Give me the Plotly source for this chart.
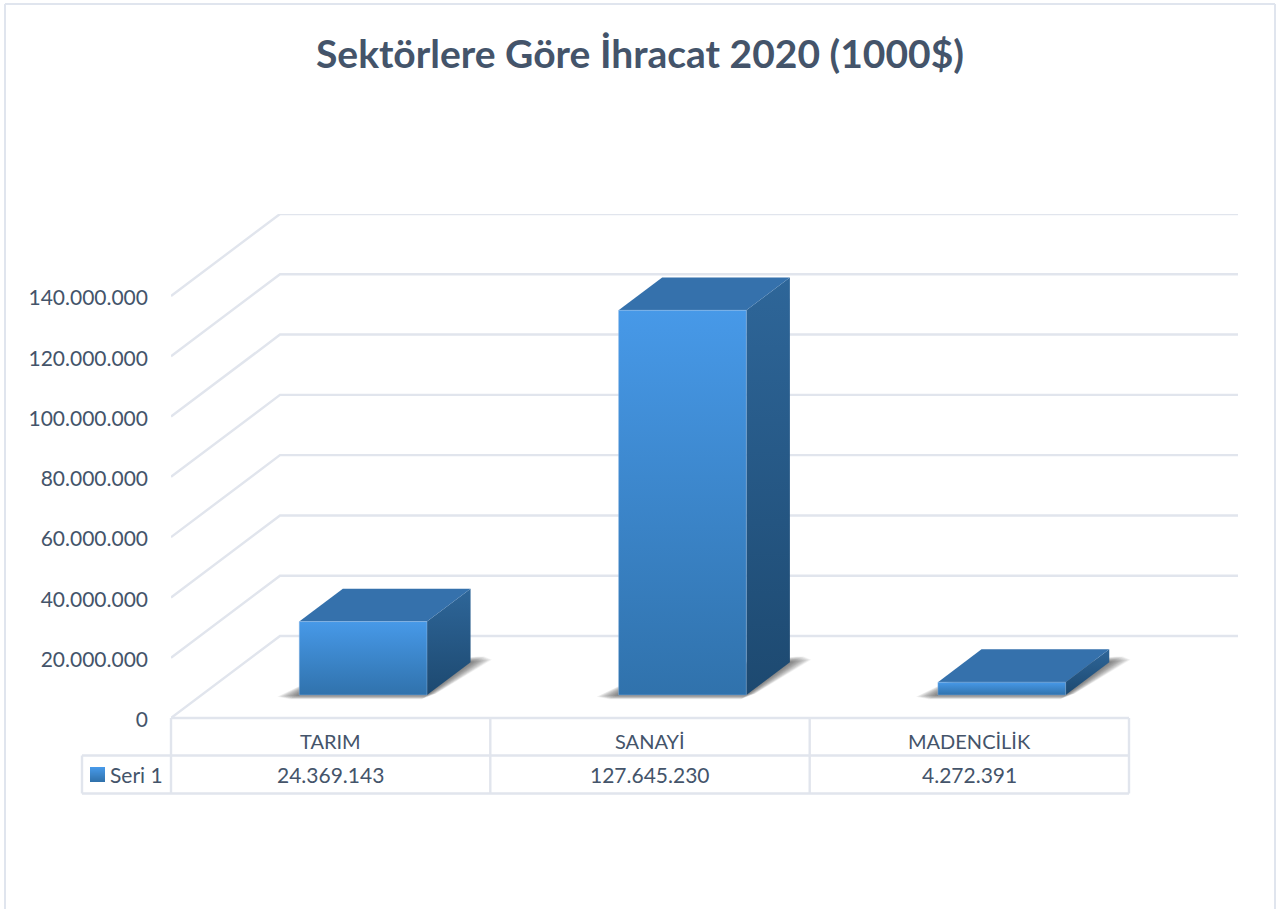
import plotly.graph_objects as go

# ---- data ----
categories = ["TARIM", "SANAYİ", "MADENCİLİK"]
values = [24369143, 127645230, 4272391]
series_name = "Seri 1"
tick_values = [0, 20000000, 40000000, 60000000, 80000000, 100000000, 120000000, 140000000]
title_text = "Sektörlere Göre İhracat 2020 (1000$)"

# ---- style / layout constants ----
W, H = 1283, 909
PL, PR, PT, PB = 171, 1241, 214, 718       # plot box in pixels
UX = (1129 - 171) / 3                      # pixels per category
UY = (718 - 296) / 140e6                   # pixels per value unit
DX = 109 / UX                              # depth shift in category units
DY = 82 / UY                               # depth shift in value units
TXT = "#44546a"
GRID = "#e1e5ed"
FONT = "Lato"
HALF, OFF, D0, D1 = 0.2, 0.006, 0.28, 0.68


def fmt(v):
    return f"{v:,}".replace(",", ".")


def proj(x, v, d):
    return x + d * DX, v + d * DY


def poly(pts):
    p = [proj(*q) for q in pts] + [proj(*pts[0])]
    return [a for a, _ in p], [b for _, b in p]


def grad(top, bottom):
    return dict(type="vertical", colorscale=[[0, bottom], [1, top]])


fig = go.Figure()

# walls: gridlines
for t in tick_values:
    xs, ys = zip(*[proj(0, t, 0), proj(0, t, 1), proj(3, t, 1)])
    fig.add_trace(go.Scatter(x=xs, y=ys, mode="lines", line=dict(color=GRID, width=2.4),
                             hoverinfo="skip", showlegend=False))

# bars
for i, (c, v) in enumerate(zip(categories, values)):
    x0, x1 = i + 0.5 + OFF - HALF, i + 0.5 + OFF + HALF

    # soft floor shadow: stacked translucent polygons
    n = 14
    for k in range(n, 0, -1):
        r = k / n
        e = 0.062 * r
        f = 0.05 * r
        b = 0.07 * r
        xs, ys = poly([(x0 - e, 0, D0 - f * 0.4), (x0 - e * 0.2, 0, D0 - f), (x1, 0, D0 - f),
                       (x1 + e * 0.35, 0, D0 + 0.02), (x1 + e * 0.9, 0, D1 + b * 0.45), (x1 + e * 0.3, 0, D1 + b),
                       (x1, 0, D1 + b), (x0, 0, D1 - 0.1)])
        fig.add_trace(go.Scatter(x=xs, y=ys, mode="lines", fill="toself",
                                 fillcolor="rgba(45,45,45,0.06)", line=dict(width=0),
                                 hoverinfo="skip", showlegend=False))
    # side
    xs, ys = poly([(x1, 0, D0), (x1, v, D0), (x1, v, D1), (x1, 0, D1)])
    fig.add_trace(go.Scatter(x=xs, y=ys, mode="lines", fill="toself", line=dict(width=0),
                             fillgradient=grad("#2e6699", "#1d4970"),
                             hoverinfo="skip", showlegend=False))
    # top
    xs, ys = poly([(x0, v, D0), (x1, v, D0), (x1, v, D1), (x0, v, D1)])
    fig.add_trace(go.Scatter(x=xs, y=ys, mode="lines", fill="toself", line=dict(width=0),
                             fillcolor="#3571ac", hoverinfo="skip", showlegend=False))
    # front
    xs, ys = poly([(x0, 0, D0), (x1, 0, D0), (x1, v, D0), (x0, v, D0)])
    fig.add_trace(go.Scatter(x=xs, y=ys, mode="lines", fill="toself", name=c,
                             line=dict(width=0.75, color="rgba(150,190,230,0.55)"),
                             fillgradient=grad("#4799e8", "#3072ac"),
                             hoverinfo="skip", showlegend=False))


def py(p):
    return (PB - p) / (PB - PT)


def px(p):
    return (p - PL) / (PR - PL)


shapes = []
# outer border (no bottom edge)
for x_a, y_a, x_b, y_b in [(5, 909, 5, 4), (5, 4, 1275, 4), (1275, 4, 1275, 909)]:
    shapes.append(dict(type="line", xref="paper", yref="paper", x0=px(x_a), x1=px(x_b),
                       y0=py(y_a), y1=py(y_b), line=dict(color="#e0e5ee", width=2), layer="below"))
# data table
ROW1, ROW2, ROW3 = 718, 755.5, 793.5
table = [(171, ROW1, 1129, ROW1), (82, ROW2, 1129, ROW2), (82, ROW3, 1129, ROW3), (82, ROW2, 82, ROW3)]
for xv in [171, 490.3, 809.7, 1129]:
    table.append((xv, ROW1, xv, ROW3))
for x_a, y_a, x_b, y_b in table:
    shapes.append(dict(type="line", xref="paper", yref="paper", x0=px(x_a), x1=px(x_b),
                       y0=py(y_a), y1=py(y_b), line=dict(color=GRID, width=2.4), layer="below"))
# legend key, in one-pixel gradient steps
top_c, bot_c = (0x47, 0x99, 0xe8), (0x30, 0x72, 0xac)
for s in range(15):
    t = s / 14
    col = "rgb(%d,%d,%d)" % tuple(round(a + (b - a) * t) for a, b in zip(top_c, bot_c))
    shapes.append(dict(type="rect", xref="paper", yref="paper", x0=px(90), x1=px(105),
                       y0=py(767 + s), y1=py(768 + s), fillcolor=col, line=dict(width=0)))

ann = [dict(text=title_text, xref="paper", yref="paper", x=px(640), y=py(53), showarrow=False,
            xanchor="center", yanchor="middle", font=dict(family=FONT, size=39, color=TXT, weight="bold"))]
for i, (c, v) in enumerate(zip(categories, values)):
    ann.append(dict(text=c, xref="x", yref="paper", x=i + 0.5, y=py(740.5), showarrow=False,
                    xanchor="center", yanchor="middle", font=dict(family=FONT, size=20, color=TXT)))
    ann.append(dict(text=fmt(v), xref="x", yref="paper", x=i + 0.5, y=py(774), showarrow=False,
                    xanchor="center", yanchor="middle", font=dict(family=FONT, size=21, color=TXT)))
ann.append(dict(text=series_name, xref="paper", yref="paper", x=px(108), y=py(774), showarrow=False,
                xanchor="left", yanchor="middle", font=dict(family=FONT, size=21, color=TXT)))

fig.update_layout(
    width=W, height=H, margin=dict(l=PL, r=W - PR, t=PT, b=H - PB, pad=0),
    paper_bgcolor="white", plot_bgcolor="white", showlegend=False,
    shapes=shapes, annotations=ann,
    xaxis=dict(range=[0, (PR - PL) / UX], visible=False, fixedrange=True),
    yaxis=dict(range=[0, (PB - PT) / UY], tickmode="array", tickvals=tick_values,
               ticktext=[fmt(t) for t in tick_values], showgrid=False, zeroline=False,
               showline=False, ticks="", ticklabelstandoff=22, ticklabelshift=2, fixedrange=True,
               tickfont=dict(family=FONT, size=21, color=TXT)),
)

fig.write_html("out.html", config=dict(displayModeBar=False),
               post_script="document.body.style.margin='0';")
